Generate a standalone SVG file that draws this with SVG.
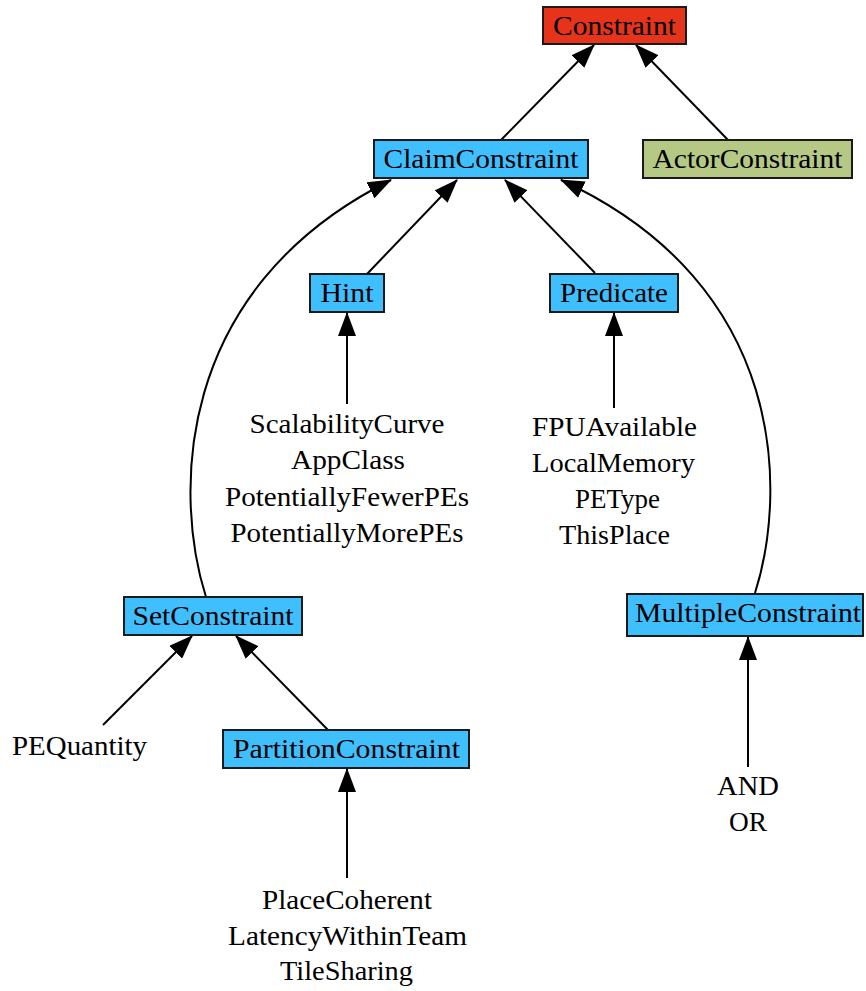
<svg xmlns="http://www.w3.org/2000/svg" width="866" height="991" viewBox="0 0 866 991">
  <style>
    .box { stroke: #1a1a1a; stroke-width: 2; }
    .root { fill: #e53419; }
    .cls { fill: #40bfff; }
    .actor { fill: #b5c985; }
    text { font-family: "Liberation Serif", "DejaVu Serif", serif; font-size: 28px; fill: #000; text-anchor: middle; }
    .edge { fill: none; stroke: #000; stroke-width: 2; marker-end: url(#arrow); }
  </style>
  <defs>
    <marker id="arrow" markerUnits="userSpaceOnUse" markerWidth="24" markerHeight="18" viewBox="0 0 24 18" refX="23" refY="9" orient="auto">
      <path d="M0,0 L24,9 L0,18 Z" fill="#000"/>
    </marker>
  </defs>

  <!-- connectors -->
  <g id="edges">
    <path class="edge" d="M501,140 L594,45"/>
    <path class="edge" d="M728,140 L636,45"/>
    <path class="edge" d="M367,274 L457,180"/>
    <path class="edge" d="M595,273 L505,180"/>
    <path class="edge" d="M206,597 C175,500 170,290 391,180"/>
    <path class="edge" d="M755,593 C786,496 791,286 561,180"/>
    <path class="edge" d="M347,404 L347,313"/>
    <path class="edge" d="M614,408 L614,313"/>
    <path class="edge" d="M103,725 L192,636"/>
    <path class="edge" d="M328,730 L236,636"/>
    <path class="edge" d="M347,878 L347,769"/>
    <path class="edge" d="M748,767 L748,637"/>
  </g>

  <!-- nodes -->
  <g id="constraint">
    <rect class="box root" x="543" y="7" width="143" height="37"/>
    <text x="614.5" y="35" textLength="123" lengthAdjust="spacingAndGlyphs">Constraint</text>
  </g>
  <g id="claim-constraint">
    <rect class="box cls" x="374" y="140" width="214" height="38"/>
    <text x="481" y="168" textLength="195" lengthAdjust="spacingAndGlyphs">ClaimConstraint</text>
  </g>
  <g id="actor-constraint">
    <rect class="box actor" x="643" y="140" width="209" height="38"/>
    <text x="747.5" y="168" textLength="190" lengthAdjust="spacingAndGlyphs">ActorConstraint</text>
  </g>
  <g id="hint">
    <rect class="box cls" x="310" y="274" width="74" height="38"/>
    <text x="347" y="302" textLength="53" lengthAdjust="spacingAndGlyphs">Hint</text>
  </g>
  <g id="predicate">
    <rect class="box cls" x="550" y="274" width="128" height="38"/>
    <text x="614" y="302" textLength="108" lengthAdjust="spacingAndGlyphs">Predicate</text>
  </g>
  <g id="set-constraint">
    <rect class="box cls" x="124" y="597" width="178" height="38"/>
    <text x="213" y="625" textLength="161" lengthAdjust="spacingAndGlyphs">SetConstraint</text>
  </g>
  <g id="multiple-constraint">
    <rect class="box cls" x="627" y="594" width="236" height="42"/>
    <text x="748" y="622" textLength="226" lengthAdjust="spacingAndGlyphs">MultipleConstraint</text>
  </g>
  <g id="partition-constraint">
    <rect class="box cls" x="223" y="730" width="246" height="38"/>
    <text x="346.5" y="758" textLength="227" lengthAdjust="spacingAndGlyphs">PartitionConstraint</text>
  </g>

  <!-- leaf lists -->
  <g id="hint-kinds">
    <text x="347" y="433" textLength="195" lengthAdjust="spacingAndGlyphs">ScalabilityCurve</text>
    <text x="348" y="469" textLength="114" lengthAdjust="spacingAndGlyphs">AppClass</text>
    <text x="347" y="506" textLength="244" lengthAdjust="spacingAndGlyphs">PotentiallyFewerPEs</text>
    <text x="347" y="542" textLength="233" lengthAdjust="spacingAndGlyphs">PotentiallyMorePEs</text>
  </g>
  <g id="predicate-kinds">
    <text x="614.5" y="436" textLength="165" lengthAdjust="spacingAndGlyphs">FPUAvailable</text>
    <text x="613.5" y="472" textLength="163" lengthAdjust="spacingAndGlyphs">LocalMemory</text>
    <text x="617.5" y="508" textLength="85" lengthAdjust="spacingAndGlyphs">PEType</text>
    <text x="614.5" y="544" textLength="111" lengthAdjust="spacingAndGlyphs">ThisPlace</text>
  </g>
  <g id="pe-quantity">
    <text x="79.5" y="755" textLength="135" lengthAdjust="spacingAndGlyphs">PEQuantity</text>
  </g>
  <g id="partition-kinds">
    <text x="347" y="909" textLength="170" lengthAdjust="spacingAndGlyphs">PlaceCoherent</text>
    <text x="347.5" y="945" textLength="239" lengthAdjust="spacingAndGlyphs">LatencyWithinTeam</text>
    <text x="346.5" y="980" textLength="133" lengthAdjust="spacingAndGlyphs">TileSharing</text>
  </g>
  <g id="multiple-kinds">
    <text x="748" y="795" textLength="62" lengthAdjust="spacingAndGlyphs">AND</text>
    <text x="748" y="831" textLength="38" lengthAdjust="spacingAndGlyphs">OR</text>
  </g>
</svg>
